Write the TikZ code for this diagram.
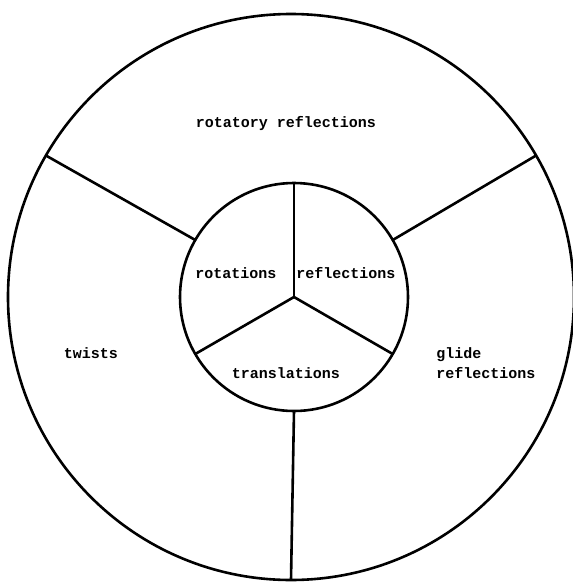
\documentclass[tikz,border=0pt]{standalone}
\usepackage{fontspec}
\setmonofont{Liberation Mono}
\begin{document}
\begin{tikzpicture}[x=1pt,y=-1pt,line width=2.6pt,
  ring/.style={circle,draw,inner sep=0pt,outer sep=0pt},
  lab/.style={font=\ttfamily\bfseries\fontsize{15}{20}\selectfont,inner sep=0pt,align=left}]
\useasboundingbox (0,0) rectangle (573,582);
\node[ring,minimum size=566pt] (outer) at (291,297) {};
\node[ring,minimum size=228pt] (inner) at (294,297) {};
\draw (inner.center) -- (inner.90);
\draw (inner.center) -- (inner.210);
\draw (inner.center) -- (inner.330);
\draw (inner.150) -- (outer.150);
\draw (inner.30) -- (outer.30);
\draw (inner.270) -- (outer.270);
\node[lab] (rr) at (286,124) {rotatory reflections};
\node[lab] (rot) at (236,273) {rotations};
\node[lab] (ref) at (346,273) {reflections};
\node[lab] (tra) at (286,373) {translations};
\node[lab] (tw) at (91,353) {twists};
\node[lab,anchor=west] (gr) at (435,363) {glide\\reflections};
\end{tikzpicture}
\end{document}
